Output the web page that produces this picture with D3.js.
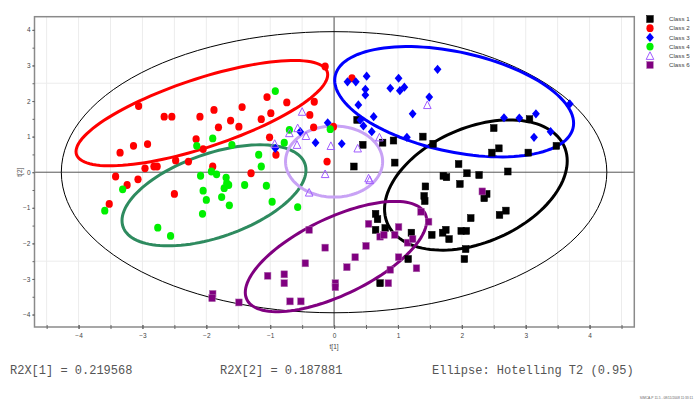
<!DOCTYPE html>
<html>
<head>
<meta charset="utf-8">
<script src="https://cdn.jsdelivr.net/npm/d3@7"></script>
<style>
  body { margin: 0; background: #fff; }
  svg { display: block; }
  .tick text { fill: #444; }
</style>
</head>
<body>
<script>
// ── Data ──────────────────────────────────────────────────────────────────────

const classNames = ['Class 1', 'Class 2', 'Class 3', 'Class 4', 'Class 5', 'Class 6'];

// t[1], t[2] scores per class
const class1 = [
  [0.36,1.47],[0.45,0.77],[0.76,0.83],[0.93,0.89],[0.95,0.27],[0.31,0.16],[1.39,1.00],
  [1.55,0.80],[2.50,1.24],[2.58,0.67],[2.47,0.55],[3.06,1.49],[3.04,0.55],[3.48,0.74],
  [1.95,0.23],[2.08,-0.03],[2.27,-0.08],[1.71,-0.10],[1.76,-0.14],[1.97,-0.33],[2.72,0.02],
  [1.43,-0.40],[1.41,-0.67],[1.42,-0.81],[2.39,-0.61],[2.35,-0.73],[2.59,-1.20],[2.69,-1.08],
  [2.14,-1.29],[1.99,-1.65],[2.07,-1.65],[1.75,-1.62],[1.70,-1.70],[1.80,-1.88],[1.53,-1.76],
  [2.06,-2.16],[2.04,-2.44],[1.21,-1.70],[1.16,-2.44],[0.65,-1.17],[0.68,-1.32],[0.65,-1.62],
  [0.80,-1.57],[0.72,-3.12]
];
const class2 = [
  [-0.14,2.97],[-3.06,1.86],[-2.66,1.56],[-2.54,1.56],[-2.10,1.56],[-1.88,1.75],[-1.44,1.83],
  [-1.05,2.11],[-0.74,1.96],[-0.31,1.98],[-0.38,1.61],[-0.99,1.66],[-1.14,1.49],[-1.62,1.45],
  [-1.49,1.28],[-1.81,1.26],[-0.32,1.26],[-2.16,0.93],[-2.05,0.65],[-2.92,0.79],[-3.14,0.74],
  [-3.35,0.55],[-1.01,0.98],[-0.91,0.49],[-2.96,0.11],[-2.82,0.16],[-2.77,0.16],[-2.48,0.33],
  [-2.28,0.30],[-3.42,-0.12],[-3.07,-0.20],[-3.24,-0.36],[-1.90,0.16],[-1.30,-0.03],
  [-2.50,-0.61],[-0.11,0.30],[-0.01,1.28],[0.28,2.64],[-3.52,-0.89]
];
const class3 = [
  [1.62,2.89],[0.21,2.54],[0.34,2.54],[0.51,2.70],[0.49,2.33],[0.49,2.17],[0.88,2.36],
  [1.01,2.64],[1.03,2.29],[1.10,2.39],[1.49,2.11],[0.38,1.89],[1.23,1.64],[0.41,1.47],
  [0.62,1.56],[0.46,1.30],[0.59,1.14],[1.14,0.98],[-0.10,1.39],[-0.53,1.14],[-0.29,0.83],
  [0.12,0.80],[3.69,1.92],[2.66,1.53],[2.90,1.52],[3.16,1.64],[3.39,1.14],[3.13,0.98],
  [-0.92,0.67]
];
const class4 = [
  [-0.92,2.28],[-1.90,0.95],[-2.15,0.74],[-1.60,0.77],[-0.70,1.19],[-0.78,0.83],[-1.18,0.49],
  [-1.14,0.16],[-0.06,1.21],[-3.31,-0.48],[-3.59,-1.08],[-2.09,-0.10],[-1.92,0.02],
  [-1.84,-0.06],[-1.69,-0.15],[-1.68,-0.31],[-1.65,-0.36],[-1.72,-0.45],[-2.05,-0.52],
  [-2.00,-0.78],[-1.76,-0.70],[-1.64,-0.93],[-2.06,-1.17],[-1.40,-0.36],[-1.06,-0.38],
  [-0.97,-0.83],[-0.57,-0.98],[-2.76,-1.56],[-2.56,-1.79]
];
const class5 = [
  [-0.50,1.70],[-0.57,1.24],[-0.70,1.10],[-0.44,1.02],[-0.58,0.77],[-0.93,0.80],[-0.05,0.74],
  [-0.14,-0.05],[-0.39,-0.57],[1.46,1.89],[0.37,0.67],[0.71,0.98],[0.54,-0.17],[0.56,-0.22]
];
const class6 = [
  [2.32,-0.54],[1.36,-1.11],[1.48,-1.39],[0.54,-1.45],[1.01,-1.54],[0.72,-1.81],[0.78,-1.76],
  [0.95,-1.76],[1.15,-1.98],[1.23,-1.88],[0.50,-2.07],[1.01,-2.39],[0.33,-2.39],[0.88,-2.74],
  [1.29,-2.70],[0.20,-2.67],[-0.14,-2.12],[-0.39,-1.62],[-0.45,-2.56],[0.02,-3.12],
  [0.02,-3.23],[0.85,-3.12],[-0.78,-2.87],[-0.78,-3.12],[-0.69,-3.63],[-0.52,-3.63],
  [-1.04,-2.91],[-1.90,-3.42],[-1.91,-3.54],[-1.49,-3.66]
];

// class ellipses: [centre t1, centre t2, half-extent t1, half-extent t2, correlation]
const classEllipses = [
  [2.22, -0.36, 1.43, 1.83, 0.37],
  [-2.07, 1.66, 1.97, 1.48, 0.73],
  [1.88, 1.98, 1.87, 1.55, -0.39],
  [-1.88, -0.65, 1.44, 1.42, 0.50],
  [0.00, 0.30, 0.76, 1.00, 0.00],
  [0.03, -2.37, 1.42, 1.55, 0.65]
];
const hotelling = [0, 0, 4.27, 3.95, 0];

const xTicks = [-4, -3, -2, -1, 0, 1, 2, 3, 4];
const yTicks = [-4, -3, -2, -1, 0, 1, 2, 3, 4];
const footerTexts = ['R2X[1] = 0.219568', 'R2X[2] = 0.187881', 'Ellipse: Hotelling T2 (0.95)'];

// ── Styling ───────────────────────────────────────────────────────────────────

const series = [class1, class2, class3, class4, class5, class6];
const fills   = ['#000000', '#ff0000', '#0000ff', '#00f000', 'none', '#800080'];
const strokes = ['#000000', '#ff0000', '#0000ff', '#00f000', '#a05cff', '#b070b0'];
const shapes  = ['square', 'circle', 'diamond', 'circle', 'triangle', 'square'];
const ellipseColours = ['#000000', '#ff0000', '#0000ff', '#2e8b5f', '#c8a2f5', '#800080'];

const W = 695, H = 405;
const frame = { l: 34.5, r: 634.3, t: 16.7, b: 327 };

const x = d3.scaleLinear().domain([-4.69, 4.70]).range([frame.l, frame.r]);
const y = d3.scaleLinear().domain([-4.35, 4.37]).range([frame.b, frame.t]);

const svg = d3.select('body').append('svg').attr('width', W).attr('height', H);

// ── Grid ──────────────────────────────────────────────────────────────────────

const grid = svg.append('g').attr('stroke', '#ececec').attr('stroke-width', 1);
d3.range(-4.5, 4.51, 0.5).forEach(v => {
  grid.append('line').attr('x1', x(v)).attr('x2', x(v)).attr('y1', frame.t).attr('y2', frame.b);
});
[-2.5, 2.5].forEach(v => {
  grid.append('line').attr('x1', frame.l).attr('x2', frame.r).attr('y1', y(v)).attr('y2', y(v));
});

// zero lines
svg.append('line').attr('x1', frame.l).attr('x2', frame.r).attr('y1', y(0)).attr('y2', y(0))
  .attr('stroke', '#555').attr('stroke-width', 1);
svg.append('line').attr('x1', x(0)).attr('x2', x(0)).attr('y1', frame.t).attr('y2', frame.b)
  .attr('stroke', '#555').attr('stroke-width', 1);

// ── Ellipses ──────────────────────────────────────────────────────────────────

// point on ellipse from centre, half-extents and correlation (Cholesky form)
function ellipsePath([cx, cy, sx, sy, r]) {
  const k = Math.sqrt(1 - r * r);
  const pts = d3.range(0, 361, 3).map(deg => {
    const t = deg * Math.PI / 180;
    return [x(cx + sx * Math.cos(t)), y(cy + sy * (r * Math.cos(t) + k * Math.sin(t)))];
  });
  return d3.line().curve(d3.curveLinearClosed)(pts);
}

svg.append('path').attr('d', ellipsePath(hotelling))
  .attr('fill', 'none').attr('stroke', '#000').attr('stroke-width', 1);

classEllipses.forEach((e, i) => {
  svg.append('path').attr('d', ellipsePath(e))
    .attr('fill', 'none').attr('stroke', ellipseColours[i]).attr('stroke-width', 3);
});

// ── Markers ───────────────────────────────────────────────────────────────────

function drawMarker(sel, shape, fill, stroke) {
  if (shape === 'square') {
    sel.append('rect').attr('x', -3.3).attr('y', -3.5).attr('width', 6.6).attr('height', 7)
      .attr('fill', fill).attr('stroke', stroke).attr('stroke-width', 0.5);
  } else if (shape === 'circle') {
    sel.append('ellipse').attr('rx', 3.6).attr('ry', 3.9).attr('fill', fill);
  } else if (shape === 'diamond') {
    sel.append('path').attr('d', 'M0,-4.6L3.9,0L0,4.6L-3.9,0Z').attr('fill', fill);
  } else if (shape === 'triangle') {
    sel.append('path').attr('d', 'M0,-4L3.8,3.6L-3.8,3.6Z')
      .attr('fill', '#fff').attr('fill-opacity', 0).attr('stroke', stroke).attr('stroke-width', 1);
  }
}

series.forEach((pts, i) => {
  const g = svg.append('g');
  pts.forEach(p => {
    const m = g.append('g').attr('transform', `translate(${x(p[0])},${y(p[1])})`);
    drawMarker(m, shapes[i], fills[i], strokes[i]);
  });
});

// ── Frame & axes ──────────────────────────────────────────────────────────────

svg.append('rect').attr('x', frame.l).attr('y', frame.t)
  .attr('width', frame.r - frame.l).attr('height', frame.b - frame.t)
  .attr('fill', 'none').attr('stroke', '#8a8a8a').attr('stroke-width', 1.5);

const minorX = d3.range(-4.5, 4.51, 0.5);
const minorY = d3.range(-4, 4.01, 0.5);

const xAxis = svg.append('g').attr('transform', `translate(0,${frame.b})`)
  .call(d3.axisBottom(x).tickValues(minorX).tickSize(2).tickFormat(''));
xAxis.select('.domain').remove();
xAxis.selectAll('line').attr('stroke', '#666').attr('y1', -2);

const xLab = svg.append('g').attr('transform', `translate(0,${frame.b})`)
  .call(d3.axisBottom(x).tickValues(xTicks).tickSize(2).tickPadding(4));
xLab.select('.domain').remove();
xLab.selectAll('line').attr('stroke', '#666').attr('y1', -2);
xLab.selectAll('text').attr('font-family', 'Liberation Sans, Arial, sans-serif').attr('font-size', 6.5);

const yAxis = svg.append('g').attr('transform', `translate(${frame.l},0)`)
  .call(d3.axisLeft(y).tickValues(minorY).tickSize(2).tickFormat(''));
yAxis.select('.domain').remove();
yAxis.selectAll('line').attr('stroke', '#666');

const yLab = svg.append('g').attr('transform', `translate(${frame.l},0)`)
  .call(d3.axisLeft(y).tickValues(yTicks).tickSize(2).tickPadding(2));
yLab.select('.domain').remove();
yLab.selectAll('line').attr('stroke', '#666');
yLab.selectAll('text').attr('font-family', 'Liberation Sans, Arial, sans-serif').attr('font-size', 6.5);

svg.append('text').attr('transform', `translate(22,${y(0)}) rotate(-90)`)
  .attr('text-anchor', 'middle').attr('font-family', 'Liberation Sans, Arial, sans-serif')
  .attr('font-size', 6.5).attr('fill', '#444').text('t[2]');
svg.append('text').attr('x', x(0)).attr('y', 349)
  .attr('text-anchor', 'middle').attr('font-family', 'Liberation Sans, Arial, sans-serif')
  .attr('font-size', 6.5).attr('fill', '#444').text('t[1]');

// ── Legend ────────────────────────────────────────────────────────────────────

const legend = svg.append('g').attr('transform', 'translate(650,19)');
classNames.forEach((name, i) => {
  const row = legend.append('g').attr('transform', `translate(0,${i * 9.2})`);
  drawMarker(row, shapes[i], fills[i], strokes[i]);
  row.append('text').attr('x', 19).attr('y', 2.2)
    .attr('font-family', 'Liberation Sans, Arial, sans-serif').attr('font-size', 6.2)
    .attr('fill', '#444').text(name);
});

// ── Footer ────────────────────────────────────────────────────────────────────

const footerX = [10, 220, 432];
footerTexts.forEach((t, i) => {
  svg.append('text').attr('x', footerX[i]).attr('y', 374)
    .attr('font-family', 'Liberation Mono, Courier New, monospace').attr('font-size', 12)
    .attr('fill', '#555').text(t);
});

svg.append('text').attr('x', 693).attr('y', 399).attr('text-anchor', 'end')
  .attr('font-family', 'Liberation Sans, Arial, sans-serif').attr('font-size', 3.3)
  .attr('fill', '#666').text('SIMCA-P 11.5 - 08/11/2008 11:33:11');
</script>
</body>
</html>
